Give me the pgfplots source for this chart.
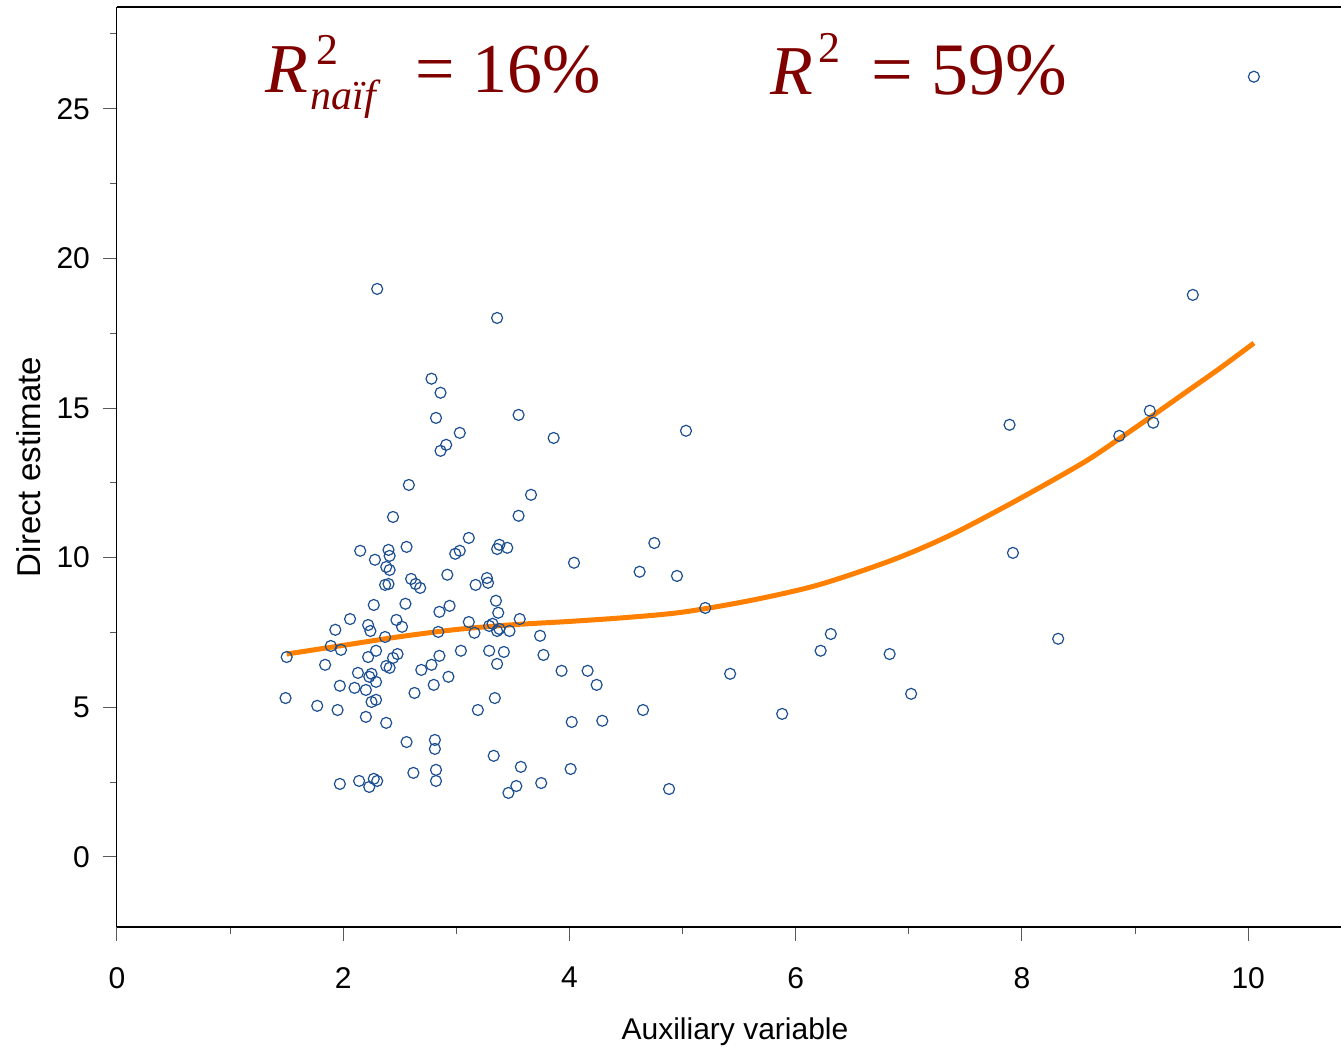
\documentclass[border=0pt]{standalone}
\usepackage{pgfplots}
\pgfplotsset{compat=1.18}
\usepackage{fontspec}
\setmainfont{Liberation Sans}
\newfontfamily\tnr{Liberation Serif}
\definecolor{darkred}{RGB}{128,0,0}
\definecolor{ptblue}{RGB}{28,79,145}
\definecolor{fitorange}{RGB}{255,128,0}
\begin{document}
\begin{tikzpicture}
\path[use as bounding box] (-58.5pt,-60.5pt) rectangle (612pt,463.5pt);
\begin{axis}[
  at={(0pt,0pt)}, anchor=south west,
  scale only axis, width=612pt, height=460pt,
  xmin=0, xmax=10.82, ymin=-2.34, ymax=28.4,
  axis x line=bottom, axis y line=left,
  x axis line style={line width=1pt,-},
  y axis line style={line width=0.5pt,-},
  xtick={0,2,4,6,8,10}, ytick={0,5,10,15,20,25},
  minor xtick={1,3,5,7,9}, minor ytick={2.5,7.5,12.5,17.5,22.5,27.5},
  tick align=outside,
  major tick length=7pt, minor tick length=3.5pt,
  tick style={black!65, line width=0.5pt},
  /pgf/number format/assume math mode=true,
  ticklabel style={font=\fontsize{15}{18}\selectfont},
  xticklabel style={yshift=-9.5pt},
  yticklabel style={xshift=-3pt},
  xlabel={Auxiliary variable}, ylabel={Direct estimate},
  every axis x label/.style={at={(axis description cs:0.5,0)}, anchor=base, yshift=-56.5pt, xshift=3pt, font=\fontsize{15}{18}\selectfont},
  every axis y label/.style={at={(axis description cs:0,0.5)}, anchor=base, xshift=-38pt, rotate=90, font=\fontsize{16.5}{19}\selectfont},
  clip=false,
]
\addplot[only marks, mark=o, mark size=2.75pt, mark options={ptblue, line width=0.6pt}] table {
x y
1.50 6.68
1.49 5.31
1.77 5.05
1.84 6.42
1.89 7.05
1.93 7.59
1.98 6.92
1.97 5.72
1.95 4.91
1.97 2.44
2.06 7.95
2.10 5.65
2.15 10.23
2.13 6.15
2.14 2.54
2.20 4.68
2.20 5.58
2.22 7.75
2.24 7.55
2.22 6.68
2.23 6.02
2.25 6.12
2.25 5.18
2.23 2.34
2.27 2.61
2.30 2.54
2.27 8.42
2.28 9.93
2.29 6.89
2.29 5.85
2.29 5.25
2.30 18.98
2.37 7.35
2.37 9.09
2.38 9.69
2.38 6.38
2.38 4.48
2.40 10.26
2.40 9.12
2.41 9.59
2.41 10.06
2.41 6.32
2.44 11.36
2.44 6.65
2.47 7.92
2.48 6.78
2.52 7.69
2.55 8.46
2.56 10.36
2.56 3.84
2.58 12.43
2.60 9.29
2.62 2.81
2.63 5.48
2.64 9.12
2.68 8.99
2.69 6.25
2.78 15.98
2.78 6.42
2.80 5.75
2.82 14.67
2.81 3.91
2.81 3.61
2.82 2.91
2.82 2.54
2.84 7.52
2.85 8.19
2.85 6.72
2.86 15.51
2.86 13.57
2.91 13.77
2.92 9.43
2.94 8.39
2.93 6.02
2.99 10.13
3.03 10.23
3.03 14.17
3.04 6.89
3.11 10.66
3.11 7.85
3.16 7.49
3.17 9.09
3.19 4.91
3.27 9.32
3.28 9.16
3.29 7.72
3.29 6.89
3.32 7.79
3.33 3.38
3.34 5.31
3.35 8.56
3.36 18.01
3.36 10.29
3.36 7.55
3.36 6.45
3.37 8.16
3.38 10.43
3.38 7.62
3.42 6.85
3.45 10.33
3.46 2.14
3.47 7.55
3.53 2.37
3.55 14.77
3.55 11.40
3.56 7.95
3.57 3.01
3.66 12.10
3.74 7.39
3.75 2.47
3.77 6.75
3.86 14.00
3.93 6.22
4.01 2.94
4.02 4.51
4.04 9.83
4.16 6.22
4.24 5.75
4.29 4.55
4.62 9.53
4.65 4.91
4.75 10.49
4.88 2.27
4.95 9.39
5.03 14.24
5.20 8.32
5.42 6.12
5.88 4.78
6.22 6.89
6.31 7.45
6.83 6.78
7.02 5.45
7.89 14.44
7.92 10.16
8.32 7.29
8.86 14.07
9.13 14.91
9.16 14.51
9.51 18.78
10.05 26.07
};
\addplot[fitorange, line width=2.5pt, smooth] table {
x y
1.50 6.78
2.00 7.07
2.50 7.36
3.00 7.60
3.50 7.76
4.00 7.87
4.50 8.00
5.00 8.18
5.60 8.57
6.20 9.09
6.86 9.93
7.37 10.76
7.95 11.91
8.54 13.17
8.87 14.00
9.13 14.68
9.43 15.48
9.75 16.33
10.05 17.17
};
\end{axis}
\draw[line width=1pt] (0pt,460pt) -- (612pt,460pt);
% R^2_naif = 16%   (pixel -> pt: x=(px-117)*0.5, y=(927-py)*0.5)
\begin{scope}[every node/.style={inner sep=0pt, text=darkred, anchor=base west}]
\node at (74pt,417pt) {\tnr\fontsize{35}{40}\selectfont\itshape R};
\node at (99.5pt,431pt) {\tnr\fontsize{22}{26}\selectfont 2};
\node at (96.5pt,408.5pt) {\tnr\fontsize{21}{24}\selectfont\itshape naïf};
\node at (149pt,417pt) {\tnr\fontsize{35}{40}\selectfont = 16\%};
\node at (326.5pt,416pt) {\tnr\fontsize{35}{40}\selectfont\itshape R};
\node at (350.5pt,432pt) {\tnr\fontsize{22}{26}\selectfont 2};
\node at (377pt,416pt) {\tnr\fontsize{37}{40}\selectfont = 59\%};
\end{scope}
\end{tikzpicture}
\end{document}
